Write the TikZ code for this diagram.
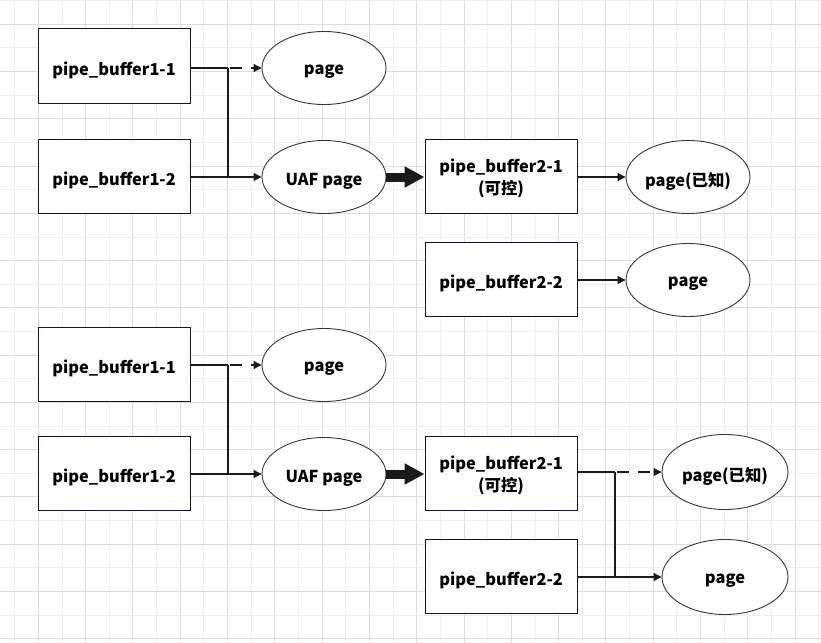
\documentclass[tikz,border=0pt]{standalone}
\usepackage{fontspec}
\setmainfont{Noto Sans CJK SC}
\usetikzlibrary{shapes.geometric,arrows.meta}
\definecolor{rectc}{HTML}{141432}
\definecolor{ellc}{HTML}{34344E}
\definecolor{gridmin}{HTML}{EFEFEF}
\definecolor{gridmaj}{HTML}{DDDDDD}
\definecolor{linec}{HTML}{1A1A1A}
\newcommand{\dn}[2][4pt]{\raisebox{-#1}[\height][\depth]{#2}}
\tikzset{
  txt/.style={font=\fontsize{16.4pt}{22pt}\selectfont\bfseries, text=black},
  box/.style={txt, draw=rectc, line width=1pt, minimum width=152pt, minimum height=74pt, inner sep=0pt, align=center},
  oval/.style={txt, ellipse, draw=ellc, line width=0.9pt, minimum width=124pt, minimum height=73pt, inner sep=0pt, align=center},
  conn/.style={draw=linec, line width=1.1pt},
  arr/.style={conn, -{Triangle[length=8pt,width=8pt]}},
  darr/.style={arr, dash pattern=on 12pt off 9pt, dash phase=-2pt},
  fat/.style={draw=linec, line width=9pt, -{Triangle[length=20pt,width=20pt]}}
}
\begin{document}
\begin{tikzpicture}[x=1pt,y=-1pt]
\useasboundingbox (0,0) rectangle (821,642);
\fill[white] (0,0) rectangle (821,642);
% grid
\foreach \k in {0,...,34}{
  \pgfmathsetmacro{\xx}{14.7+23.65*\k}
  \pgfmathtruncatemacro{\odd}{mod(\k,2)}
  \ifnum\odd=1 \draw[gridmaj,line width=1pt] (\xx,0) -- (\xx,642);
  \else \draw[gridmin,line width=1pt] (\xx,0) -- (\xx,642); \fi
}
\foreach \k in {0,...,27}{
  \pgfmathsetmacro{\yy}{0.7+23.63*\k}
  \pgfmathtruncatemacro{\odd}{mod(\k,2)}
  \ifnum\odd=1 \draw[gridmaj,line width=1pt] (0,\yy) -- (821,\yy);
  \else \draw[gridmin,line width=1pt] (0,\yy) -- (821,\yy); \fi
}
% ---- top section
\node[box,fill=white] (a1) at (114,66) {\dn{pipe\_buffer1-1}};
\node[box,fill=white] (a2) at (114,176) {\dn{pipe\_buffer1-2}};
\node[oval,fill=white] (p1) at (324,68) {\dn{page}};
\node[oval,fill=white] (u1) at (324,177) {\dn{UAF page}};
\node[box,fill=white] (b1) at (501,176) {\dn[2pt]{pipe\_buffer2-1}\\\dn[2pt]{(可控)}};
\node[oval,fill=white] (k1) at (688,177) {\dn{page(已知)}};
\node[box,fill=white] (b2) at (501,279) {\dn{pipe\_buffer2-2}};
\node[oval,fill=white] (q1) at (688,280) {\dn{page}};
\coordinate (j1) at (228,68);
\draw[conn] (a1.east |- j1) -- (j1);
\draw[darr] (j1) -- (p1.west);
\draw[arr] (a2.east |- u1) -- (u1.west);
\draw[conn] (j1) -- (j1 |- u1);
\draw[fat] (u1.east) -- (b1.west |- u1);
\draw[arr] (b1.east |- k1) -- (k1.west);
\draw[arr] (b2.east |- q1) -- (q1.west);
% ---- bottom section
\node[box,fill=white] (c1) at (114,364) {\dn{pipe\_buffer1-1}};
\node[box,fill=white] (c2) at (114,473) {\dn{pipe\_buffer1-2}};
\node[oval,fill=white] (p2) at (324,365) {\dn{page}};
\node[oval,fill=white] (u2) at (324,474) {\dn{UAF page}};
\node[box,fill=white] (d1) at (501,473) {\dn[2pt]{pipe\_buffer2-1}\\\dn[2pt]{(可控)}};
\node[oval,fill=white,minimum width=126pt,minimum height=75pt] (k2) at (725,472) {\dn{page(已知)}};
\node[box,fill=white] (d2) at (501,576) {\dn{pipe\_buffer2-2}};
\node[oval,fill=white,minimum width=126pt,minimum height=75pt] (q2) at (725,577) {\dn{page}};
\coordinate (j2) at (228,365);
\draw[conn] (c1.east |- j2) -- (j2);
\draw[darr] (j2) -- (p2.west);
\draw[arr] (c2.east |- u2) -- (u2.west);
\draw[conn] (j2) -- (j2 |- u2);
\draw[fat] (u2.east) -- (d1.west |- u2);
\coordinate (j3) at (615,472);
\draw[conn] (d1.east |- j3) -- (j3);
\draw[darr] (j3) -- (k2.west);
\draw[arr] (d2.east |- q2) -- (q2.west);
\draw[conn] (j3) -- (j3 |- q2);
\end{tikzpicture}
\end{document}
